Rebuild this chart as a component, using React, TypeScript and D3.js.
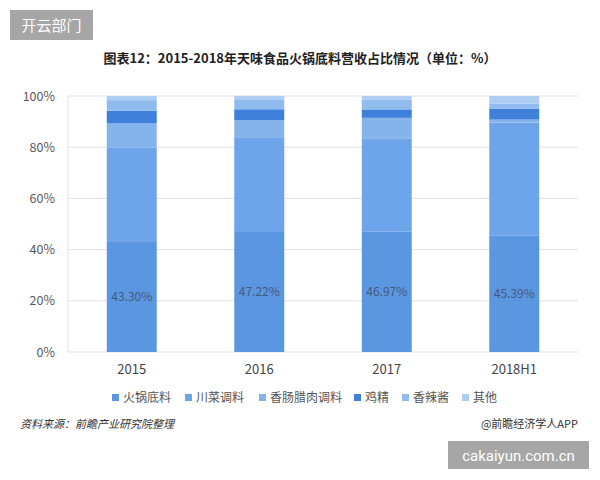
import { useRef, useEffect } from "react";
import * as d3 from "d3";

const years = ["2015", "2016", "2017", "2018H1"];
const seriesNames = ["火锅底料", "川菜调料", "香肠腊肉调料", "鸡精", "香辣酱", "其他"];
const hotpot = [43.3, 47.22, 46.97, 45.39];
const sichuan = [36.6, 36.4, 36.5, 44.2];
const sausage = [9.4, 7.0, 8.0, 1.2];
const chicken = [4.9, 4.2, 3.3, 4.3];
const spicy = [4.2, 3.9, 3.9, 2.0];
const others = [1.6, 1.3, 1.3, 2.9];
const yTicks = [0, 20, 40, 60, 80, 100];
const colors = ["#5b97e1", "#6ea5ea", "#85b3ec", "#3f80da", "#90bbef", "#aecdf3"];

const FONT = "'Microsoft YaHei', 'Noto Sans CJK SC', sans-serif";

export default function App() {
  const svgRef = useRef(null);

  function renderChart() {
    const svg = d3.select(svgRef.current);
    svg.selectAll("*").remove();

    const rows = years.map((y, i) => ({
      year: y,
      火锅底料: hotpot[i],
      川菜调料: sichuan[i],
      香肠腊肉调料: sausage[i],
      鸡精: chicken[i],
      香辣酱: spicy[i],
      其他: others[i],
    }));

    const left = 68, right = 578, top = 96, bottom = 352;
    const x = d3.scaleBand().domain(years).range([left, right]).paddingInner(0.608).paddingOuter(0.304);
    const y = d3.scaleLinear().domain([0, 100]).range([bottom, top]);

    // badge
    svg.append("rect").attr("x", 10).attr("y", 10).attr("width", 83).attr("height", 30).attr("fill", "#a6a6a6");
    svg.append("text").attr("x", 51.5).attr("y", 30.5).attr("text-anchor", "middle")
      .attr("font-size", 15).attr("fill", "#fff").attr("font-family", FONT).text("开云部门");

    svg.append("text").attr("x", 300).attr("y", 63).attr("text-anchor", "middle")
      .attr("font-size", 13).attr("font-weight", "bold").attr("fill", "#222").attr("font-family", FONT)
      .text("图表12：2015-2018年天味食品火锅底料营收占比情况（单位：%）");

    // grid
    svg.append("g").selectAll("line").data(yTicks).join("line")
      .attr("x1", left).attr("x2", right)
      .attr("y1", (d) => y(d)).attr("y2", (d) => y(d))
      .attr("stroke", "#e2e2e2").attr("stroke-width", 1);
    svg.append("line").attr("x1", left).attr("x2", left).attr("y1", top).attr("y2", bottom)
      .attr("stroke", "#e2e2e2");

    svg.append("g").selectAll("text").data(yTicks).join("text")
      .attr("x", 55).attr("y", (d) => y(d) + 4.5).attr("text-anchor", "end")
      .attr("font-size", 12.5).attr("fill", "#595959").attr("font-family", FONT)
      .text((d) => d + "%");

    const stack = d3.stack().keys(seriesNames);
    const layers = stack(rows as any);

    svg.append("g").selectAll("g").data(layers).join("g")
      .attr("fill", (_d, i) => colors[i])
      .selectAll("rect").data((d: any) => d).join("rect")
      .attr("x", (d: any) => x(d.data.year)!)
      .attr("width", x.bandwidth())
      .attr("y", (d: any) => y(d[1]))
      .attr("height", (d: any) => y(d[0]) - y(d[1]));

    svg.append("g").selectAll("text").data(rows).join("text")
      .attr("x", (d) => x(d.year)! + x.bandwidth() / 2)
      .attr("y", (d) => y(d.火锅底料 / 2) + 4)
      .attr("text-anchor", "middle").attr("font-size", 12).attr("fill", "#44597a")
      .attr("font-family", FONT)
      .text((d) => d.火锅底料.toFixed(2) + "%");

    svg.append("g").selectAll("text").data(years).join("text")
      .attr("x", (d) => x(d)! + x.bandwidth() / 2)
      .attr("y", 374).attr("text-anchor", "middle")
      .attr("font-size", 13).attr("fill", "#444").attr("font-family", FONT)
      .text((d) => d);

    // legend
    const legendX = [112, 185, 259, 354, 402, 462];
    const lg = svg.append("g").selectAll("g").data(seriesNames).join("g")
      .attr("transform", (_d, i) => `translate(${legendX[i]},398)`);
    lg.append("rect").attr("x", 0).attr("y", -4).attr("width", 7).attr("height", 7)
      .attr("fill", (_d, i) => colors[i]);
    lg.append("text").attr("x", 11).attr("y", 4).attr("font-size", 12).attr("fill", "#555")
      .attr("font-family", FONT).text((d) => d);

    svg.append("text").attr("x", 20).attr("y", 428).attr("font-size", 11).attr("font-style", "italic")
      .attr("fill", "#333").attr("font-family", FONT).text("资料来源：前瞻产业研究院整理");
    svg.append("text").attr("x", 578).attr("y", 428).attr("text-anchor", "end").attr("font-size", 11)
      .attr("fill", "#333").attr("font-family", FONT).text("@前瞻经济学人APP");

    svg.append("rect").attr("x", 448).attr("y", 441).attr("width", 141).attr("height", 28).attr("fill", "#a6a6a6");
    svg.append("text").attr("x", 518.5).attr("y", 460.5).attr("text-anchor", "middle")
      .attr("font-size", 15).attr("fill", "#fff").attr("font-family", "Roboto, 'Noto Sans', sans-serif")
      .text("cakaiyun.com.cn");
  }

  useEffect(() => {
    renderChart();
  }, []);

  return (
    <div style={{ position: "absolute", left: 0, top: 0 }}>
      <svg ref={svgRef} width={600} height={480} style={{ display: "block", background: "#fff" }} />
    </div>
  );
}
